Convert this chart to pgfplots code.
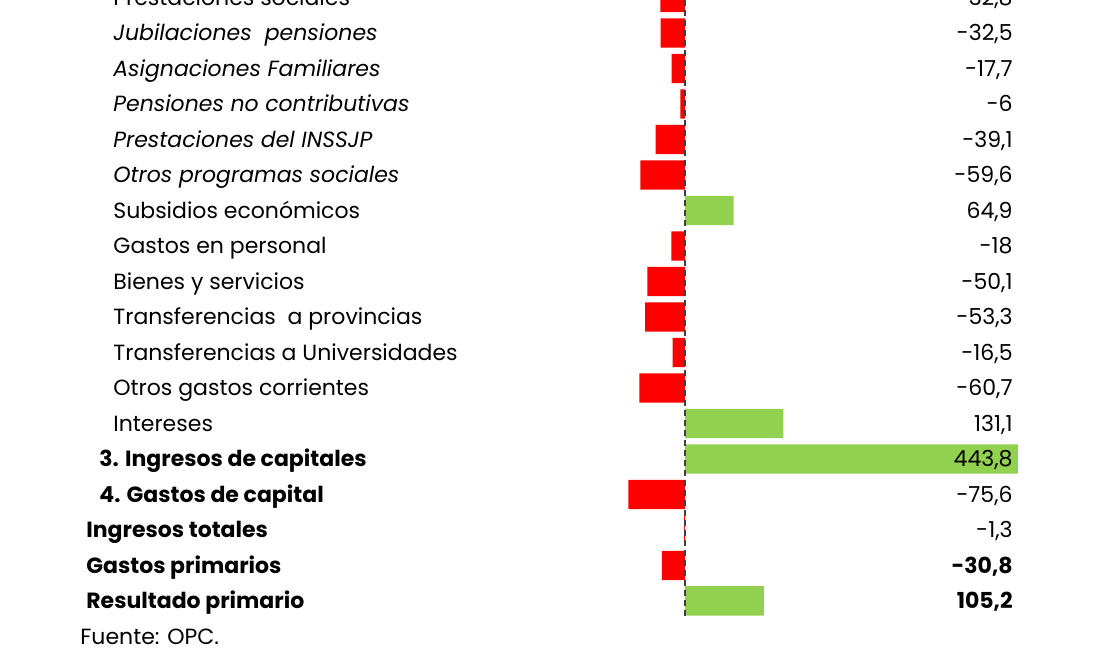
\documentclass[border=0pt]{standalone}
\usepackage{fontspec}
\setmainfont{Poppins}
\usepackage{pgfplots}
\pgfplotsset{compat=1.18}
\definecolor{barneg}{HTML}{FF0000}
\definecolor{barpos}{HTML}{92D050}
\newcommand{\lab}{\fontsize{11}{13}\selectfont}
\newcommand{\subind}{\hspace*{13.5pt}}
\newcommand{\midind}{\hspace*{6.5pt}}

% one row per category, 0 = top; the axis runs 10.125pt above the page
\pgfplotsset{
  base/.style={
    scale only axis, width=549.5pt, height=339.125pt,
    xmin=-913.3, xmax=552, ymin=-0.5, ymax=18.606, y dir=reverse,
    axis line style={draw=none}, major tick length=0pt,
    xtick=\empty, ytick={0,...,17},
  },
  bars/.style={xbar, bar width=0.83, bar shift=0pt, draw=none},
}

\begin{document}
\begin{tikzpicture}
\begin{axis}[base,
  yticklabel style={anchor=base west, xshift=43pt, yshift=-4pt, inner sep=0pt, font=\lab},
  yticklabels={
    \subind Prestaciones sociales,
    \subind\itshape Jubilaciones\ \ pensiones,
    \subind\itshape Asignaciones Familiares,
    \subind\itshape Pensiones no contributivas,
    \subind\itshape Prestaciones del INSSJP,
    \subind\itshape Otros programas sociales,
    \subind Subsidios económicos,
    \subind Gastos en personal,
    \subind Bienes y servicios,
    \subind Transferencias\ \ a provincias,
    \subind Transferencias a Universidades,
    \subind Otros gastos corrientes,
    \subind Intereses,
    \midind\bfseries 3. Ingresos de capitales,
    \midind\bfseries 4. Gastos de capital,
    \bfseries Ingresos totales,
    \bfseries Gastos primarios,
    \bfseries Resultado primario},
]
% negative changes
\addplot[bars, fill=barneg] coordinates {
  (-32.8,0) (-32.5,1) (-17.7,2) (-6,3) (-39.1,4) (-59.6,5)
  (-18,7) (-50.1,8) (-53.3,9) (-16.5,10) (-60.7,11)
  (-75.6,14) (-1.3,15) (-30.8,16)
};
% positive changes
\addplot[bars, fill=barpos] coordinates {
  (64.9,6) (131.1,12) (443.8,13) (105.2,17)
};
% zero line
\addplot[densely dashed, black!75, line width=0.6pt, mark=none] coordinates {(0,-0.5) (0,17.48)};
\node[anchor=west, inner sep=0pt, font=\lab] at (axis description cs:0.0728,0.031) {Fuente: OPC.};
\end{axis}
\begin{axis}[base,
  yticklabel pos=right,
  yticklabel style={anchor=base east, xshift=-43pt, yshift=-4pt, inner sep=0pt, font=\lab},
  yticklabels={{-32,8},{-32,5},{-17,7},{-6},{-39,1},{-59,6},{64,9},{-18},
    {-50,1},{-53,3},{-16,5},{-60,7},{131,1},{443,8},{-75,6},{-1,3},
    {\bfseries -30,8},{\bfseries 105,2}},
]
\end{axis}
\pgfresetboundingbox
\path[use as bounding box] (current axis.south west) rectangle ([yshift=-10.125pt]current axis.north east);
\end{tikzpicture}
\end{document}
